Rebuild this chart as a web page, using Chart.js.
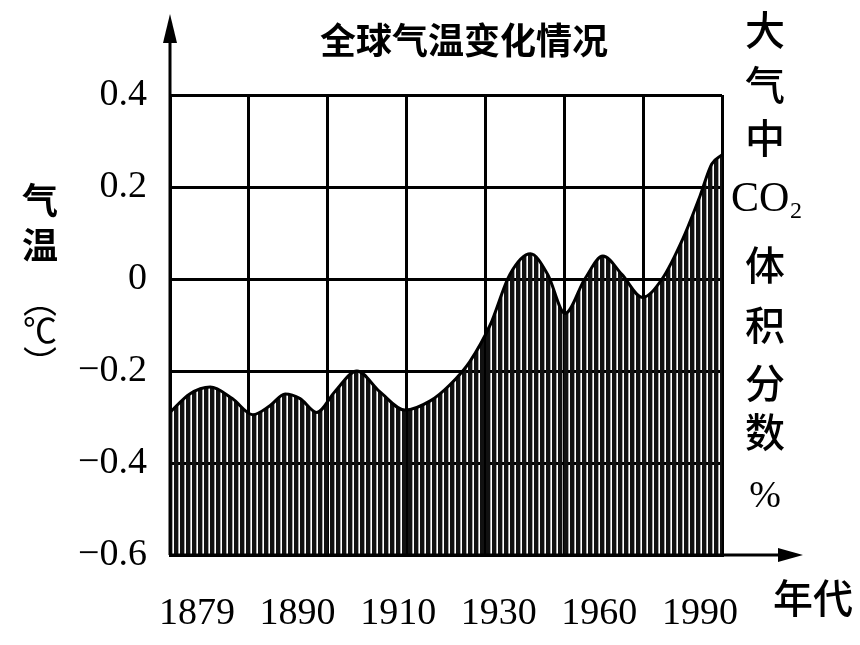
<!DOCTYPE html>
<html>
<head>
<meta charset="utf-8">
<script src="https://cdn.jsdelivr.net/npm/chart.js@4.4.1/dist/chart.umd.min.js"></script>
<style>
  html, body { margin: 0; padding: 0; background: #fff; }
  #wrap { width: 860px; height: 645px; }
</style>
</head>
<body>
<div id="wrap"><canvas id="chartTemp" width="860" height="645"></canvas></div>
<script>
// Posición a lo largo de la cuadrícula (0..7 columnas) y temperatura
const curvePos = [0, 0.25, 0.51, 0.79, 1.05, 1.27, 1.46, 1.65, 1.86, 2.09, 2.37, 2.66, 2.98, 3.30, 3.55,
                  3.80, 4.06, 4.31, 4.57, 4.79, 5.01, 5.26, 5.49, 5.73, 5.99, 6.24, 6.51, 6.72, 6.87, 7.00];
const curveTemp = [-0.29, -0.25, -0.235, -0.26, -0.295, -0.275, -0.25, -0.26, -0.29, -0.245, -0.20, -0.245, -0.285, -0.265, -0.23,
                   -0.18, -0.10, 0.01, 0.055, 0.01, -0.075, 0.00, 0.05, 0.01, -0.04, 0.00, 0.09, 0.18, 0.25, 0.27];
const yearLabels = ['1879', '1890', '1910', '1930', '1960', '1990'];
const tempTicks = [-0.6, -0.4, -0.2, 0, 0.2, 0.4];

const SERIF = '"Liberation Serif", "Times New Roman", serif';
const CJK = '"Noto Sans CJK SC", sans-serif';

/**
 * Patrón de rayado vertical para el área
 */
function makeHatch(ctx) {
    const c = document.createElement('canvas');
    c.width = 6;
    c.height = 4;
    const p = c.getContext('2d');
    p.fillStyle = '#111';
    p.fillRect(0, 0, 4, 4);
    p.fillStyle = 'rgba(0, 0, 0, 0.35)';
    p.fillRect(4, 0, 1, 4);
    return ctx.createPattern(c, 'repeat');
}

// Flechas de los ejes y textos fuera del área
const decor = {
    id: 'decor',
    afterDraw(chart) {
        const { ctx, chartArea: a } = chart;
        ctx.save();
        ctx.strokeStyle = '#000';
        ctx.fillStyle = '#000';
        ctx.lineWidth = 3;

        // eje Y con flecha
        ctx.beginPath();
        ctx.moveTo(a.left, a.bottom);
        ctx.lineTo(a.left, a.top - 55);
        ctx.stroke();
        ctx.beginPath();
        ctx.moveTo(a.left, a.top - 81);
        ctx.lineTo(a.left - 7, a.top - 52);
        ctx.lineTo(a.left + 7, a.top - 52);
        ctx.closePath();
        ctx.fill();

        // eje X con flecha
        ctx.beginPath();
        ctx.moveTo(a.left, a.bottom);
        ctx.lineTo(a.right + 60, a.bottom);
        ctx.stroke();
        ctx.beginPath();
        ctx.moveTo(a.right + 81, a.bottom);
        ctx.lineTo(a.right + 56, a.bottom - 7);
        ctx.lineTo(a.right + 56, a.bottom + 7);
        ctx.closePath();
        ctx.fill();

        ctx.textAlign = 'center';
        ctx.textBaseline = 'middle';

        // título
        ctx.font = 'bold 36px ' + CJK;
        ctx.fillText('全球气温变化情况', 464, 40);

        // etiqueta izquierda (vertical)
        ctx.font = 'bold 36px ' + CJK;
        ctx.fillText('气', 40, 200);
        ctx.fillText('温', 40, 245);
        ctx.font = '34px ' + CJK;
        ctx.fillText('︵', 40, 300);
        ctx.fillText('℃', 40, 330);
        ctx.fillText('︶', 40, 363);

        // etiqueta derecha (vertical)
        ctx.font = '500 40px ' + CJK;
        ctx.fillText('大', 765, 30);
        ctx.fillText('气', 765, 85);
        ctx.fillText('中', 765, 138);
        ctx.fillText('体', 765, 265);
        ctx.fillText('积', 765, 325);
        ctx.fillText('分', 765, 383);
        ctx.fillText('数', 765, 432);
        ctx.font = '38px ' + SERIF;
        ctx.fillText('%', 765, 497);
        ctx.textAlign = 'left';
        ctx.font = '42px ' + SERIF;
        ctx.fillText('CO', 731, 200);
        ctx.font = '24px ' + SERIF;
        ctx.fillText('2', 790, 212);

        // unidad del eje X
        ctx.textAlign = 'center';
        ctx.font = '500 40px ' + CJK;
        ctx.fillText('年代', 813, 598);

        ctx.restore();
    }
};

const canvasTemp = document.getElementById('chartTemp');
const ctxTemp = canvasTemp.getContext('2d');

const chartTemp = new Chart(ctxTemp, {
    type: 'line',
    data: {
        datasets: [{
            label: '气温',
            data: curvePos.map((x, i) => ({ x: x, y: curveTemp[i] })),
            xAxisID: 'x',
            yAxisID: 'y',
            borderColor: '#000',
            borderWidth: 3,
            backgroundColor: makeHatch(ctxTemp),
            fill: 'start',
            pointRadius: 0,
            cubicInterpolationMode: 'monotone'
        }]
    },
    options: {
        responsive: false,
        animation: false,
        devicePixelRatio: 1,
        layout: { padding: { top: 95, right: 138, bottom: 0, left: 0 } },
        plugins: {
            legend: { display: false },
            tooltip: { enabled: false },
            title: { display: false }
        },
        scales: {
            x: {
                type: 'linear',
                position: 'bottom',
                min: 0,
                max: 7,
                ticks: { stepSize: 1, display: false },
                grid: { color: '#000', lineWidth: 3, drawTicks: false },
                border: { display: true, color: '#000', width: 3 },
                afterFit(s) { s.height = 0; }
            },
            xl: {
                type: 'linear',
                position: 'bottom',
                min: -0.268,
                max: 5.219,
                afterBuildTicks(s) { s.ticks = yearLabels.map((_, i) => ({ value: i })); },
                ticks: {
                    autoSkip: false,
                    maxRotation: 0,
                    color: '#000',
                    padding: 36,
                    font: { family: SERIF, size: 38 },
                    callback: (v) => yearLabels[v]
                },
                grid: { display: false, drawTicks: false },
                border: { display: false },
                afterFit(s) { s.height = 90; }
            },
            y: {
                type: 'linear',
                min: -0.6,
                max: 0.4,
                afterBuildTicks(s) { s.ticks = tempTicks.map(v => ({ value: v })); },
                ticks: {
                    color: '#000',
                    padding: 23,
                    font: { family: SERIF, size: 38 },
                    callback: (v) => Math.abs(v) < 1e-9 ? '0' : (v < 0 ? '\u2212' : '') + Math.abs(v).toFixed(1)
                },
                grid: { color: '#000', lineWidth: 3, drawTicks: false },
                border: { display: true, color: '#000', width: 3 },
                afterFit(s) { s.width = 170; }
            }
        }
    },
    plugins: [decor]
});
</script>
</body>
</html>
